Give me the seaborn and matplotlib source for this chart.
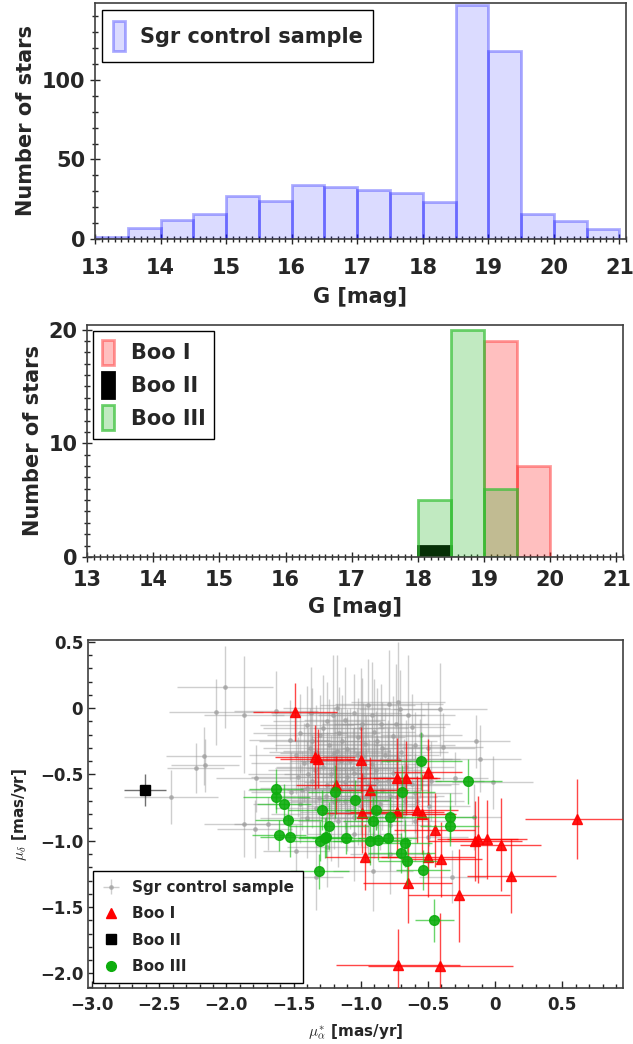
"""G-magnitude histograms of the Sgr control sample and the Bootes members, plus their proper motions."""

# %% IMPORTS
import matplotlib
matplotlib.use("Agg")
from matplotlib import ticker
from matplotlib.lines import Line2D
from matplotlib.patches import Patch
import matplotlib.pyplot as plt
import seaborn as sns

# %% DATA
# histogram bins are 0.5 mag wide, values are bin centres
sgr_g = [13.25, 13.75, 14.25, 14.75, 15.25, 15.75, 16.25, 16.75,
         17.25, 17.75, 18.25, 18.75, 19.25, 19.75, 20.25, 20.75]
sgr_n = [1, 7, 12, 16, 27, 24, 34, 33, 31, 29, 23, 147, 118, 16, 11, 6]

boo1_g = [19.25, 19.75]
boo1_n = [19, 8]
boo2_g = [18.25]
boo2_n = [1]
boo3_g = [18.25, 18.75, 19.25]
boo3_n = [5, 20, 6]

# proper motions [mas/yr]
sgr_pmra = [
    -2.01, -2.08, -1.87, -1.63, -2.17, -2.23, -2.16, -2.41, -1.87, -1.79, -1.69, -1.78,
    -1.53, -1.48, -1.33, -0.14, -0.11, -0.02, -0.16, -0.32, -0.30, -0.39, -0.41,
    -1.37, -1.05, -0.79, -0.72, -0.71, -1.18, -0.95,
    -0.85, -0.99, -1.25, -1.12, -0.62, -1.40,
    -1.30, -1.16, -1.02, -0.90, -0.76, -0.55, -1.45,
    -1.38, -1.24, -1.10, -0.97, -0.84, -0.70, -0.60, -1.20,
    -1.42, -1.28, -1.15, -1.06, -0.92, -0.80, -0.66, -0.56, -1.34, -0.98,
    -1.47, -1.36, -1.22, -1.12, -0.98, -0.88, -0.76, -0.62, -1.05,
    -1.52, -1.40, -1.26, -1.08, -0.96, -0.84, -0.73, -0.60, -1.17,
    -1.45, -1.33, -1.20, -1.00, -0.86, -0.67, -0.49, -1.10,
    -1.40, -1.17, -0.95, -0.60, -0.78,
    -0.78, -0.91, -1.05, -0.50, -1.25,
    -1.28, -1.14, -1.00, -0.88, -0.74,
    -1.33, -1.19, -1.03, -0.89, -0.72,
    -1.39, -1.25, -1.10, -0.94, -0.80,
    -1.31, -1.15, -1.02, -0.90, -0.78,
    -1.22, -1.05, -0.90, -0.70,
    -1.36, -1.21, -0.92, -0.65,
    -0.50, -0.48, -0.68, -1.08,
    -1.18, -0.96, -0.82,
    -1.48, -1.44, -0.58, -1.00, -1.12,
]
sgr_pmdec = [
    0.16, -0.03, -0.05, -0.02, -0.36, -0.45, -0.43, -0.67, -0.87, -0.91, -0.87, -0.53,
    -0.24, -1.08, -1.27, -0.25, -0.38, -0.56, -0.82, -1.27, -0.53, -0.29, -0.01,
    -0.04, -0.04, 0.035, 0.045, -0.01, 0.00, 0.02,
    -0.12, -0.12, -0.10, -0.09, -0.14, -0.13,
    -0.20, -0.19, -0.22, -0.18, -0.21, -0.20, -0.19,
    -0.30, -0.28, -0.31, -0.27, -0.30, -0.33, -0.28, -0.34,
    -0.41, -0.44, -0.40, -0.45, -0.42, -0.39, -0.44, -0.38, -0.47, -0.36,
    -0.52, -0.55, -0.50, -0.56, -0.52, -0.55, -0.49, -0.57, -0.49,
    -0.63, -0.60, -0.66, -0.61, -0.66, -0.62, -0.67, -0.64, -0.69,
    -0.72, -0.75, -0.71, -0.74, -0.72, -0.70, -0.74, -0.78,
    -0.83, -0.85, -0.83, -0.85, -0.88,
    -1.10, -1.23, -0.95, -0.97, -1.05,
    -0.15, -0.25, -0.15, -0.25, -0.12,
    -0.33, -0.45, -0.35, -0.47, -0.38,
    -0.50, -0.58, -0.52, -0.58, -0.55,
    -0.68, -0.62, -0.68, -0.63, -0.66,
    -0.80, -0.82, -0.78, -0.80,
    -0.25, -0.05, -0.05, -0.05,
    -0.30, -0.55, -0.58, -0.40,
    -0.32, -0.45, -0.35,
    -0.35, -0.62, -0.70, -0.60, -0.70,
]
sgr_pmra_err = [
    0.36, 0.35, 0.30, 0.31, 0.28, 0.21, 0.25, 0.35, 0.30, 0.28, 0.25, 0.30,
    0.30, 0.25, 0.20, 0.25, 0.30, 0.30, 0.20, 0.25, 0.25, 0.30, 0.35,
    0.30, 0.35, 0.40, 0.35, 0.30, 0.40, 0.35,
    0.35, 0.30, 0.40, 0.30, 0.25, 0.35,
    0.40, 0.30, 0.35, 0.30, 0.35, 0.30, 0.35,
    0.35, 0.40, 0.30, 0.35, 0.30, 0.35, 0.30, 0.40,
    0.40, 0.35, 0.30, 0.35, 0.40, 0.30, 0.35, 0.30, 0.35, 0.30,
    0.35, 0.40, 0.35, 0.30, 0.40, 0.35, 0.30, 0.35, 0.30,
    0.30, 0.35, 0.40, 0.35, 0.30, 0.35, 0.30, 0.35, 0.40,
    0.35, 0.30, 0.35, 0.40, 0.30, 0.35, 0.30, 0.35,
    0.35, 0.30, 0.35, 0.30, 0.30,
    0.30, 0.30, 0.35, 0.30, 0.30,
    0.45, 0.40, 0.35, 0.45, 0.40,
    0.35, 0.45, 0.40, 0.35, 0.40,
    0.45, 0.40, 0.35, 0.45, 0.40,
    0.35, 0.40, 0.45, 0.35, 0.40,
    0.45, 0.40, 0.35, 0.40,
    0.40, 0.45, 0.40, 0.35,
    0.35, 0.40, 0.35, 0.45,
    0.40, 0.35, 0.40,
    0.35, 0.40, 0.35, 0.45, 0.40,
]
sgr_pmdec_err = [
    0.31, 0.25, 0.44, 0.30, 0.22, 0.19, 0.20, 0.20, 0.25, 0.22, 0.20, 0.25,
    0.30, 0.20, 0.25, 0.20, 0.25, 0.20, 0.25, 0.20, 0.20, 0.25, 0.35,
    0.35, 0.30, 0.40, 0.45, 0.30, 0.40, 0.35,
    0.30, 0.35, 0.30, 0.40, 0.25, 0.30,
    0.30, 0.35, 0.30, 0.40, 0.30, 0.25, 0.30,
    0.30, 0.35, 0.30, 0.30, 0.35, 0.30, 0.25, 0.35,
    0.30, 0.35, 0.40, 0.30, 0.35, 0.30, 0.35, 0.30, 0.25, 0.40,
    0.30, 0.35, 0.30, 0.35, 0.30, 0.35, 0.30, 0.30, 0.35,
    0.30, 0.35, 0.30, 0.30, 0.35, 0.30, 0.35, 0.30, 0.30,
    0.30, 0.30, 0.35, 0.30, 0.35, 0.30, 0.30, 0.30,
    0.30, 0.35, 0.30, 0.30, 0.35,
    0.30, 0.30, 0.35, 0.30, 0.30,
    0.40, 0.35, 0.45, 0.40, 0.45,
    0.35, 0.40, 0.35, 0.45, 0.40,
    0.35, 0.40, 0.45, 0.35, 0.40,
    0.35, 0.40, 0.35, 0.40, 0.35,
    0.35, 0.30, 0.35, 0.30,
    0.40, 0.45, 0.40, 0.45,
    0.35, 0.30, 0.35, 0.40,
    0.35, 0.40, 0.35,
    0.30, 0.30, 0.30, 0.35, 0.30,
]

boo1_pmra = [-1.49, -1.34, -1.32, -1.00, -1.185, -0.50, -0.73, -0.66, -0.93, -0.99,
             -0.73, -0.58, -0.545, -0.45, -0.97, -0.50, -0.40, -0.65, -0.27, -0.15,
             -0.13, -0.06, 0.04, 0.12, 0.61, -0.725, -0.41]
boo1_pmdec = [-0.03, -0.37, -0.38, -0.39, -0.58, -0.48, -0.525, -0.525, -0.62, -0.79,
              -0.785, -0.765, -0.80, -0.92, -1.12, -1.12, -1.14, -1.32, -1.41, -1.00,
              -0.99, -0.99, -1.03, -1.265, -0.835, -1.935, -1.945]
boo1_pmra_err = [0.31, 0.30, 0.28, 0.30, 0.30, 0.25, 0.30, 0.25, 0.28, 0.30,
                 0.35, 0.30, 0.25, 0.30, 0.30, 0.35, 0.30, 0.33, 0.38, 0.35,
                 0.30, 0.30, 0.30, 0.33, 0.39, 0.46, 0.54]
boo1_pmdec_err = [0.22, 0.24, 0.22, 0.25, 0.22, 0.25, 0.30, 0.28, 0.25, 0.30,
                  0.30, 0.25, 0.30, 0.28, 0.25, 0.30, 0.28, 0.30, 0.35, 0.30,
                  0.33, 0.30, 0.35, 0.28, 0.30, 0.27, 0.40]

boo2_pmra = [-2.606]
boo2_pmdec = [-0.614]
boo2_pmra_err = [0.155]
boo2_pmdec_err = [0.12]

boo3_pmra = [-1.63, -1.63, -1.57, -1.54, -1.61, -1.53, -1.29, -1.24, -1.26, -1.30,
             -1.31, -1.19, -1.04, -0.55, -0.20, -0.695, -0.89, -0.78, -0.91, -0.34,
             -0.34, -1.11, -0.93, -0.875, -0.80, -0.67, -0.70, -0.655, -0.54, -0.455,
             -1.27]
boo3_pmdec = [-0.61, -0.67, -0.72, -0.84, -0.96, -0.97, -0.77, -0.89, -0.97, -1.00,
              -1.23, -0.63, -0.69, -0.40, -0.55, -0.63, -0.77, -0.82, -0.85, -0.82,
              -0.89, -0.98, -1.00, -0.995, -0.98, -1.02, -1.09, -1.15, -1.22, -1.60,
              -0.98]
boo3_pmra_err = [0.20, 0.25, 0.20, 0.25, 0.20, 0.22, 0.25, 0.30, 0.20, 0.25,
                 0.22, 0.20, 0.25, 0.30, 0.25, 0.25, 0.22, 0.25, 0.22, 0.20,
                 0.22, 0.25, 0.28, 0.25, 0.22, 0.20, 0.25, 0.22, 0.20, 0.145,
                 0.20]
boo3_pmdec_err = [0.15, 0.12, 0.15, 0.12, 0.12, 0.15, 0.15, 0.18, 0.15, 0.15,
                  0.13, 0.20, 0.15, 0.22, 0.17, 0.20, 0.15, 0.15, 0.18, 0.18,
                  0.15, 0.12, 0.18, 0.15, 0.15, 0.18, 0.15, 0.18, 0.15, 0.16,
                  0.15]

# %% STYLE
sns.set_style("ticks")
plt.rcParams["font.family"] = ["DejaVu Sans"]
plt.rcParams["font.weight"] = "bold"
plt.rcParams["axes.labelweight"] = "bold"
plt.rcParams["mathtext.fontset"] = "cm"

fig = plt.figure(figsize=(6.33, 10.44), dpi=100)
ax_top = fig.add_axes([0.150, 0.7711, 0.8389, 0.2261])
ax_mid = fig.add_axes([0.1374, 0.4665, 0.8468, 0.2222])
ax_pm = fig.add_axes([0.139, 0.0536, 0.845, 0.3329])


def hist(ax, g, n, face, edge, lw=2.0):
    lo, hi = min(g) - 0.25, max(g) + 0.25
    n_before = len(ax.patches)
    sns.histplot(x=g, weights=n, binwidth=0.5, binrange=(lo, hi), ax=ax)
    for p in ax.patches[n_before:]:
        p.set_facecolor(face)
        p.set_edgecolor(edge)
        p.set_linewidth(lw)


def style_hist(ax, ymax, ymajor, yminor, xpad, labelpad):
    ax.set_xlim(13, 21.1)
    ax.set_ylim(0, ymax)
    ax.xaxis.set_major_locator(ticker.MultipleLocator(1))
    ax.xaxis.set_minor_locator(ticker.MultipleLocator(0.1))
    ax.yaxis.set_major_locator(ticker.MultipleLocator(ymajor))
    ax.yaxis.set_minor_locator(ticker.MultipleLocator(yminor))
    ax.tick_params(which="both", direction="inout", labelsize=15, width=1,
                   top=False, right=False)
    ax.tick_params(which="major", length=7)
    ax.tick_params(which="minor", length=4)
    ax.tick_params(axis="x", pad=xpad)
    for lab in ax.get_xticklabels() + ax.get_yticklabels():
        lab.set_fontweight("bold")
    for s in ax.spines.values():
        s.set_visible(True)
        s.set_color("0.25")
        s.set_linewidth(1.2)
    ax.set_xlabel("G [mag]", fontsize=15, labelpad=labelpad)
    ax.set_ylabel("Number of stars", fontsize=15, labelpad=4)


# %% TOP: Sgr control sample
hist(ax_top, sgr_g, sgr_n, (0, 0, 1, 0.14), (0.1, 0.1, 1, 0.35))
style_hist(ax_top, 148.5, 50, 10, xpad=10, labelpad=7)
ax_top.legend(handles=[Patch(facecolor=(0, 0, 1, 0.14), edgecolor=(0.1, 0.1, 1, 0.35),
                             linewidth=2, label="Sgr control sample")],
              loc="upper left", fontsize=15, frameon=True, fancybox=False,
              edgecolor="black", framealpha=1, handlelength=0.6, handleheight=1.9,
              borderpad=0.5, borderaxespad=0.35, handletextpad=0.7)

# %% MIDDLE: Bootes members
red_face, red_edge = (1, 0, 0, 0.25), (1, 0.15, 0.15, 0.45)
blk_face, blk_edge = (0, 0, 0, 1), (0, 0, 0, 1)
grn_face, grn_edge = (0.1, 0.7, 0.1, 0.27), (0.2, 0.75, 0.2, 0.7)
hist(ax_mid, boo1_g, boo1_n, red_face, red_edge)
hist(ax_mid, boo2_g, boo2_n, blk_face, blk_edge)
hist(ax_mid, boo3_g, boo3_n, grn_face, grn_edge)
style_hist(ax_mid, 20.4, 10, 1, xpad=6, labelpad=5)
ax_mid.legend(handles=[Patch(facecolor=red_face, edgecolor=red_edge, linewidth=2, label="Boo I"),
                       Patch(facecolor=blk_face, edgecolor=blk_edge, linewidth=2, label="Boo II"),
                       Patch(facecolor=grn_face, edgecolor=grn_edge, linewidth=2, label="Boo III")],
              loc="upper left", fontsize=15, frameon=True, fancybox=False,
              edgecolor="black", framealpha=1, handlelength=0.6, handleheight=1.5,
              borderpad=0.4, borderaxespad=0.3, handletextpad=0.8, labelspacing=0.35)

# %% BOTTOM: proper motions
ax = ax_pm
sgr_eb = ax.errorbar(sgr_pmra, sgr_pmdec, xerr=sgr_pmra_err, yerr=sgr_pmdec_err,
                     fmt="o", ms=2.5, color=(0.62, 0.62, 0.62, 0.6),
                     ecolor=(0.58, 0.58, 0.58, 0.45), elinewidth=1, capsize=0,
                     zorder=1, label="Sgr control sample")
ax.errorbar(boo1_pmra, boo1_pmdec, xerr=boo1_pmra_err, yerr=boo1_pmdec_err,
            fmt="^", ms=7, color=(1, 0, 0, 0.9), ecolor=(1, 0, 0, 0.72),
            elinewidth=1, capsize=0, zorder=3)
ax.errorbar(boo2_pmra, boo2_pmdec, xerr=boo2_pmra_err, yerr=boo2_pmdec_err,
            fmt="s", ms=7, color="black", ecolor=(0.2, 0.2, 0.2, 0.7),
            elinewidth=1, capsize=0, zorder=3)
ax.errorbar(boo3_pmra, boo3_pmdec, xerr=boo3_pmra_err, yerr=boo3_pmdec_err,
            fmt="o", ms=7, color=(0.05, 0.68, 0.05, 0.9), ecolor=(0.1, 0.75, 0.1, 0.65),
            elinewidth=1, capsize=0, zorder=4)

ax.set_xlim(-3.03, 0.95)
ax.set_ylim(-2.11, 0.51)
ax.xaxis.set_major_locator(ticker.MultipleLocator(0.5))
ax.xaxis.set_minor_locator(ticker.MultipleLocator(0.1))
ax.yaxis.set_major_locator(ticker.MultipleLocator(0.5))
ax.yaxis.set_minor_locator(ticker.MultipleLocator(0.1))
fmt = ticker.FuncFormatter(lambda v, _: "0" if abs(v) < 1e-9 else f"{v:.1f}".replace("-", "\u2212"))
ax.xaxis.set_major_formatter(fmt)
ax.yaxis.set_major_formatter(fmt)
ax.tick_params(which="both", direction="in", labelsize=12, top=False, right=False, width=1)
ax.tick_params(which="major", length=5)
ax.tick_params(which="minor", length=3)
ax.tick_params(axis="x", pad=6)
for lab in ax.get_xticklabels() + ax.get_yticklabels():
    lab.set_fontweight("bold")
for s in ax.spines.values():
    s.set_visible(True)
    s.set_color("0.25")
    s.set_linewidth(1.2)
ax.set_xlabel(r"$\mu_{\alpha}^{*}$ [mas/yr]", fontsize=11, labelpad=6)
ax.set_ylabel(r"$\mu_{\delta}$ [mas/yr]", fontsize=11, labelpad=8)

handles = [
    sgr_eb,
    Line2D([], [], ls="none", marker="^", ms=7, color="red", label="Boo I"),
    Line2D([], [], ls="none", marker="s", ms=7, color="black", label="Boo II"),
    Line2D([], [], ls="none", marker="o", ms=7, color=(0.05, 0.68, 0.05), label="Boo III"),
]
ax.legend(handles=handles, loc="lower left", fontsize=11, frameon=True, fancybox=False,
          edgecolor="black", framealpha=1, borderpad=0.6, labelspacing=0.75,
          handlelength=1.2, handletextpad=0.8, borderaxespad=0.3)

fig.savefig("out.png", dpi=100)
